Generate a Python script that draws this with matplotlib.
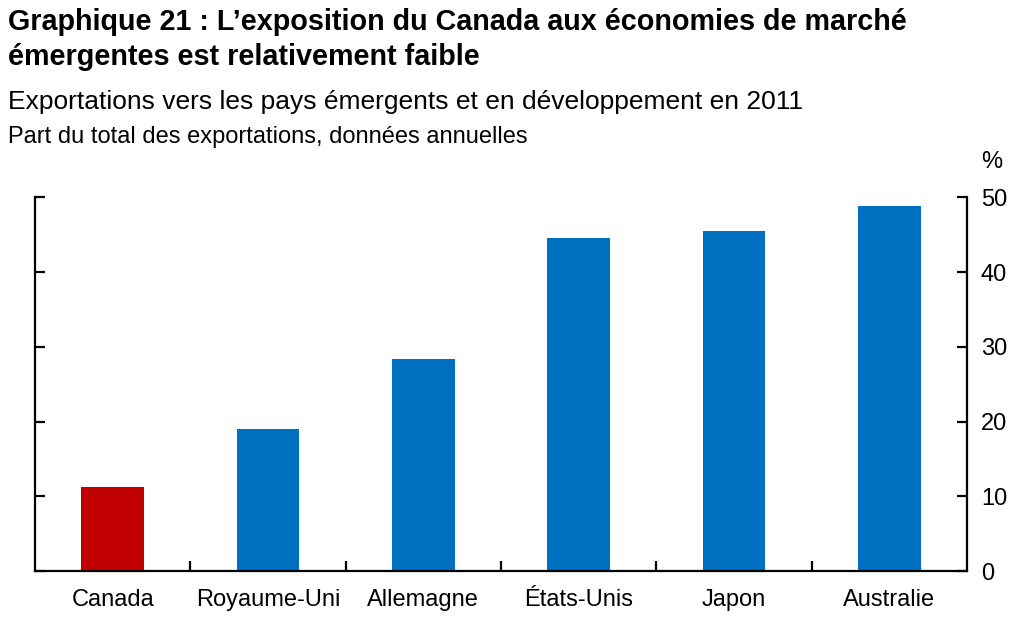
import matplotlib
matplotlib.use("Agg")
import matplotlib.pyplot as plt
import numpy as np

plt.rcParams['font.family'] = ['Liberation Sans', 'DejaVu Sans']

categories = ["Canada", "Royaume-Uni", "Allemagne", "États-Unis", "Japon", "Australie"]
values = [11.3, 19.0, 28.4, 44.6, 45.5, 48.8]
colors = ["#C00000", "#0070C0", "#0070C0", "#0070C0", "#0070C0", "#0070C0"]
yticks = [0, 10, 20, 30, 40, 50]

fig = plt.figure(figsize=(10.24, 6.34), dpi=100)
ax = fig.add_axes([35/1024, 1 - 571/634, (967-35)/1024, (571-197.3)/634])

x = np.arange(len(categories))
ax.bar(x, values, width=0.405, color=colors)
ax.set_xlim(-0.5, len(categories) - 0.5)
ax.set_ylim(0, 50)

ax.spines['top'].set_visible(False)
for s in ['left', 'right', 'bottom']:
    ax.spines[s].set_linewidth(1.6)
    ax.spines[s].set_color('black')

ax.yaxis.tick_right()
ax.set_yticks(yticks)
ax.tick_params(axis='y', which='both', direction='in', length=7, width=1.6,
               left=True, right=True, labelleft=False, labelright=True,
               labelsize=17, pad=10)

ax.set_xticks(x)
ax.set_xticklabels(categories, fontsize=17)
ax.tick_params(axis='x', which='major', length=0, pad=13)
ax.set_xticks(np.arange(len(categories) - 1) + 0.5, minor=True)
ax.tick_params(axis='x', which='minor', direction='in', length=7, width=1.6)

fig.text(8/1024, 1 - 22/634, "Graphique 21 : L’exposition du Canada aux économies de marché",
         fontsize=20.7, fontweight='bold', va='center', ha='left')
fig.text(8/1024, 1 - 57/634, "émergentes est relativement faible",
         fontsize=20.7, fontweight='bold', va='center', ha='left')
fig.text(8/1024, 1 - 102/634, "Exportations vers les pays émergents et en développement en 2011",
         fontsize=19, va='center', ha='left')
fig.text(8/1024, 1 - 137/634, "Part du total des exportations, données annuelles",
         fontsize=17, va='center', ha='left')
fig.text(992/1024, 1 - 162/634, "%", fontsize=17, va='center', ha='center')

fig.savefig("out.png", dpi=100)
